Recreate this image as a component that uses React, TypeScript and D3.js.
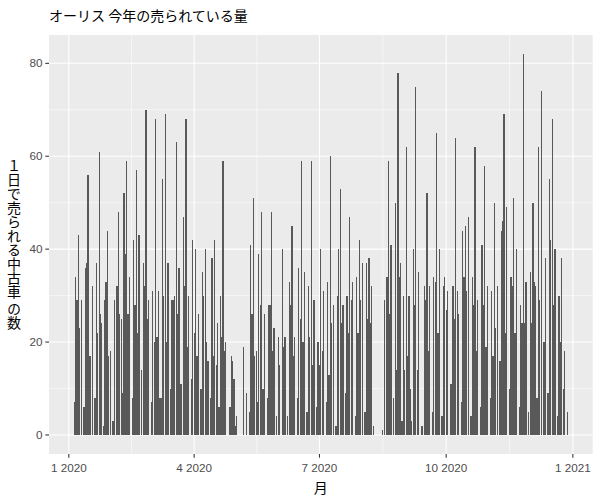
import React from "react";
import * as d3 from "d3";

// Daily number of used Auris cars sold in 2020 (one entry per day of month; 0 = none)
const jan = [0, 0, 0, 0, 7, 34, 29, 43, 23, 29, 0, 6, 36, 37, 56, 17, 17, 32, 0, 8, 37, 22, 61, 26, 24, 2, 29, 33, 44, 17, 18];
const feb = [0, 3, 29, 0, 32, 48, 26, 25, 9, 52, 39, 59, 26, 34, 0, 8, 42, 28, 57, 22, 43, 0, 14, 37, 32, 70, 25, 29, 0];
const mar = [7, 31, 20, 68, 21, 31, 8, 8, 55, 30, 69, 20, 37, 0, 10, 29, 29, 30, 63, 26, 36, 11, 11, 47, 32, 68, 19, 30, 0, 12, 42];
const apr = [22, 40, 17, 26, 0, 10, 35, 30, 40, 20, 16, 0, 8, 38, 17, 42, 15, 24, 6, 30, 21, 59, 18, 20, 0, 0, 6, 17, 16, 12];
const may = [2, 4, 0, 0, 0, 0, 19, 0, 9, 0, 5, 41, 26, 51, 17, 18, 7, 39, 28, 48, 10, 26, 0, 8, 28, 28, 48, 18, 23, 0, 4];
const jun = [21, 15, 0, 40, 19, 21, 0, 4, 33, 28, 45, 17, 21, 0, 8, 36, 25, 59, 20, 35, 0, 5, 32, 21, 59, 15, 29, 0, 6, 20];
const jul = [15, 40, 18, 31, 0, 7, 33, 13, 60, 24, 28, 0, 2, 30, 40, 53, 24, 28, 0, 9, 30, 22, 47, 29, 33, 0, 4, 34, 22, 42, 29];
const aug = [37, 0, 5, 37, 25, 38, 24, 32, 2, 0, 0, 0, 0, 0, 0, 1, 29, 0, 34, 59, 26, 41, 0, 8, 50, 14, 78, 34, 37, 3, 30];
const sep = [14, 62, 17, 30, 10, 3, 40, 28, 75, 14, 35, 0, 2, 2, 32, 29, 52, 18, 32, 0, 5, 34, 33, 65, 22, 40, 0, 4, 32, 34];
const oct = [27, 31, 0, 11, 11, 32, 25, 64, 31, 26, 0, 7, 44, 34, 45, 31, 47, 0, 4, 34, 28, 62, 18, 29, 0, 6, 41, 28, 58, 19, 32];
const nov = [0, 8, 31, 17, 50, 23, 32, 0, 16, 44, 46, 69, 22, 49, 0, 10, 34, 32, 51, 22, 40, 0, 6, 28, 24, 82, 24, 33, 0, 5];
const dec = [35, 24, 50, 33, 32, 8, 62, 29, 74, 0, 20, 38, 0, 9, 55, 42, 68, 28, 40, 0, 4, 30, 20, 38, 10, 18, 0, 5, 0, 0, 0];
const months = [jan, feb, mar, apr, may, jun, jul, aug, sep, oct, nov, dec];

const yTicks = [0, 20, 40, 60, 80];
const xTickDates = [
  Date.UTC(2020, 0, 1),
  Date.UTC(2020, 3, 1),
  Date.UTC(2020, 6, 1),
  Date.UTC(2020, 9, 1),
  Date.UTC(2021, 0, 1),
];
const xTickLabels = ["1 2020", "4 2020", "7 2020", "10 2020", "1 2021"];

const title = "オーリス 今年の売られている量";
const xTitle = "月";
const yTitle = "１日で売られる中古車 の数";

const DAY = 86400000;

export default function App() {
  const W = 600;
  const H = 500;
  const panel = { left: 49, right: 592.7, top: 35, bottom: 454 };

  const data = months
    .flatMap((arr, m) => arr.map((v, i) => ({ t: Date.UTC(2020, m, i + 1), v })))
    .filter((d) => d.v > 0);

  const tMin = d3.min(data, (d) => d.t)! - 0.45 * DAY;
  const tMax = d3.max(data, (d) => d.t)! + 0.45 * DAY;
  const tPad = (tMax - tMin) * 0.05;
  const x = d3
    .scaleUtc()
    .domain([new Date(tMin - tPad), new Date(tMax + tPad)])
    .range([panel.left, panel.right]);

  const vMax = d3.max(data, (d) => d.v)!;
  const y = d3
    .scaleLinear()
    .domain([-0.05 * vMax, vMax * 1.05])
    .range([panel.bottom, panel.top]);

  const yMinor = yTicks.slice(1).map((v, i) => (v + yTicks[i]) / 2);
  const xMinor = xTickDates.slice(1).map((t, i) => (t + xTickDates[i]) / 2);

  const barW = x(new Date(Date.UTC(2020, 0, 1) + 0.9 * DAY)) - x(new Date(Date.UTC(2020, 0, 1)));

  const tickCol = "#333333";
  const labCol = "#4D4D4D";
  const sansFont = "'Liberation Sans', Arial, sans-serif";
  const cjkFont = "'Noto Sans CJK JP', sans-serif";

  return (
    <svg
      width={W}
      height={H}
      style={{ position: "absolute", left: 0, top: 0, background: "#fff" }}
    >
      <rect x={0} y={0} width={W} height={H} fill="#ffffff" />
      <rect
        x={panel.left}
        y={panel.top}
        width={panel.right - panel.left}
        height={panel.bottom - panel.top}
        fill="#EBEBEB"
      />
      {yMinor.map((v) => (
        <line key={"ym" + v} x1={panel.left} x2={panel.right} y1={y(v)} y2={y(v)} stroke="#fff" strokeWidth={0.53} />
      ))}
      {xMinor.map((t) => (
        <line key={"xm" + t} x1={x(new Date(t))} x2={x(new Date(t))} y1={panel.top} y2={panel.bottom} stroke="#fff" strokeWidth={0.53} />
      ))}
      {yTicks.map((v) => (
        <line key={"yM" + v} x1={panel.left} x2={panel.right} y1={y(v)} y2={y(v)} stroke="#fff" strokeWidth={1.07} />
      ))}
      {xTickDates.map((t) => (
        <line key={"xM" + t} x1={x(new Date(t))} x2={x(new Date(t))} y1={panel.top} y2={panel.bottom} stroke="#fff" strokeWidth={1.07} />
      ))}
      <g shapeRendering="crispEdges">
        {data.map((d) => (
          <rect
            key={d.t}
            x={x(new Date(d.t)) - barW / 2}
            y={y(d.v)}
            width={barW}
            height={y(0) - y(d.v)}
            fill="#595959"
          />
        ))}
      </g>
      {yTicks.map((v) => (
        <g key={"yt" + v}>
          <line x1={panel.left - 3.67} x2={panel.left} y1={y(v)} y2={y(v)} stroke={tickCol} strokeWidth={1.07} />
          <text
            x={panel.left - 6.6}
            y={y(v)}
            dy="0.35em"
            textAnchor="end"
            fontSize={11.7}
            fontFamily={sansFont}
            fill={labCol}
          >
            {v}
          </text>
        </g>
      ))}
      {xTickDates.map((t, i) => (
        <g key={"xt" + t}>
          <line
            x1={x(new Date(t))}
            x2={x(new Date(t))}
            y1={panel.bottom}
            y2={panel.bottom + 3.67}
            stroke={tickCol}
            strokeWidth={1.07}
          />
          <text
            x={x(new Date(t))}
            y={panel.bottom + 17.5}
            textAnchor="middle"
            fontSize={11.7}
            fontFamily={sansFont}
            fill={labCol}
          >
            {xTickLabels[i]}
          </text>
        </g>
      ))}
      <text
        x={(panel.left + panel.right) / 2}
        y={493}
        textAnchor="middle"
        fontSize={14}
        fontFamily={cjkFont}
        fill="#000"
      >
        {xTitle}
      </text>
      <text
        x={14}
        y={(panel.top + panel.bottom) / 2}
        textAnchor="middle"
        fontSize={14}
        fontFamily={cjkFont}
        fill="#000"
        style={{ writingMode: "vertical-rl", textOrientation: "mixed" } as React.CSSProperties}
      >
        {yTitle}
      </text>
      <text x={panel.left} y={21} fontSize={14} fontFamily={cjkFont} fill="#000">
        {title}
      </text>
    </svg>
  );
}
